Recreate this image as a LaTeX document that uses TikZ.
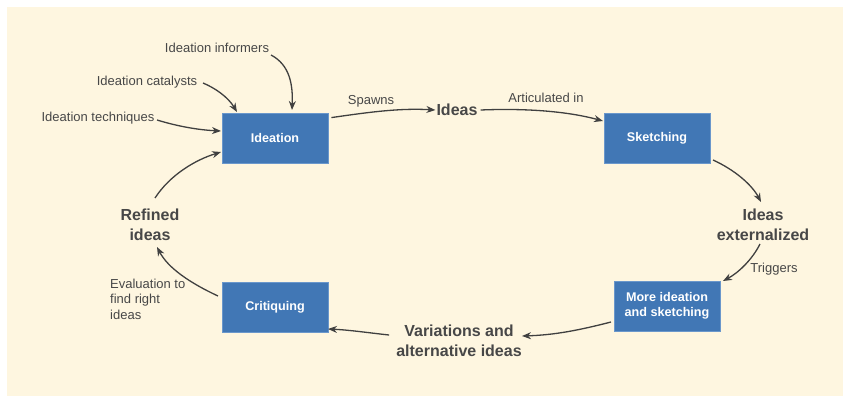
\documentclass[tikz,border=0pt]{standalone}
\usepackage{fontspec}
\setmainfont{Liberation Sans}
\usetikzlibrary{arrows.meta}
\definecolor{bgc}{HTML}{FEF6E0}
\definecolor{boxc}{HTML}{4177B5}
\definecolor{boxb}{HTML}{6A97CB}
\definecolor{txt}{HTML}{474747}
\tikzset{
  stagebox/.style={draw=boxb, line width=0.8pt, fill=boxc, minimum width=106pt, minimum height=50pt, text=white, font=\fontsize{12.6}{15}\selectfont\bfseries, align=center, inner sep=0pt},
  biglabel/.style={text=txt, font=\fontsize{16}{19.5}\selectfont\bfseries, align=center, inner sep=1pt},
  smalllabel/.style={text=txt, font=\fontsize{13}{15.5}\selectfont, inner sep=1pt},
  conn/.style={draw=txt!90!black, line width=1.3pt, -{Stealth[length=9pt,width=7pt]}}
}
\begin{document}
\begin{tikzpicture}[x=1pt,y=-1pt]
\useasboundingbox (0,0) rectangle (851,403);
\fill[white] (0,0) rectangle (851,403);
\fill[bgc] (7,7) rectangle (843,396);

\node[stagebox] (ideation) at (275,138) {Ideation};
\node[stagebox] (sketch) at (657,138) {Sketching};
\node[stagebox] (crit) at (275,307) {Critiquing};
\node[stagebox] (more) at (667,306) {More ideation\\and sketching};

\node[biglabel] (ideas) at (457,110) {Ideas};
\node[biglabel] (ext) at (763,225) {Ideas\\externalized};
\node[biglabel] (var) at (459,341) {Variations and\\alternative ideas};
\node[biglabel] (ref) at (150,225) {Refined\\ideas};

\node[smalllabel] (inf) at (217,48) {Ideation informers};
\node[smalllabel] (cat) at (147,82) {Ideation catalysts};
\node[smalllabel] (tech) at (98,118) {Ideation techniques};
\node[smalllabel] (spawns) at (371,101) {Spawns};
\node[smalllabel] (artic) at (546,98) {Articulated in};
\node[smalllabel] (trig) at (774,269) {Triggers};
\node[smalllabel, align=left, anchor=west] (eval) at (109,299) {Evaluation to\\find right\\ideas};

\coordinate (infE) at (271,55);
\coordinate (catE) at (203,83);
\coordinate (techE) at (157,120);

\draw[conn] (infE) .. controls (290,65) and (293,85) .. (292,110);
\draw[conn] (catE) .. controls (215,88) and (228,97) .. (237,112);
\draw[conn] (techE) .. controls (180,127) and (200,130) .. (221,131);
\draw[conn] (ideation.north east) ++(3,5) .. controls (370,112) and (400,108) .. (ideas.west);
\draw[conn] (ideas.east) ++(2,0) .. controls (530,108) and (570,112) .. (603,121);
\draw[conn] (713,160) .. controls (735,170) and (752,185) .. (761,202);
\draw[conn] (760,244) .. controls (752,260) and (738,273) .. (723,281);
\draw[conn] (611,322) .. controls (580,330) and (555,335) .. (522,336);
\draw[conn] (var.west) ++(-6,-6) .. controls (370,333) and (350,330) .. (328,329);
\draw[conn] (218,296) .. controls (190,283) and (168,268) .. (157,247);
\draw[conn] (155,198) .. controls (170,175) and (195,160) .. (221,152);
\end{tikzpicture}
\end{document}
